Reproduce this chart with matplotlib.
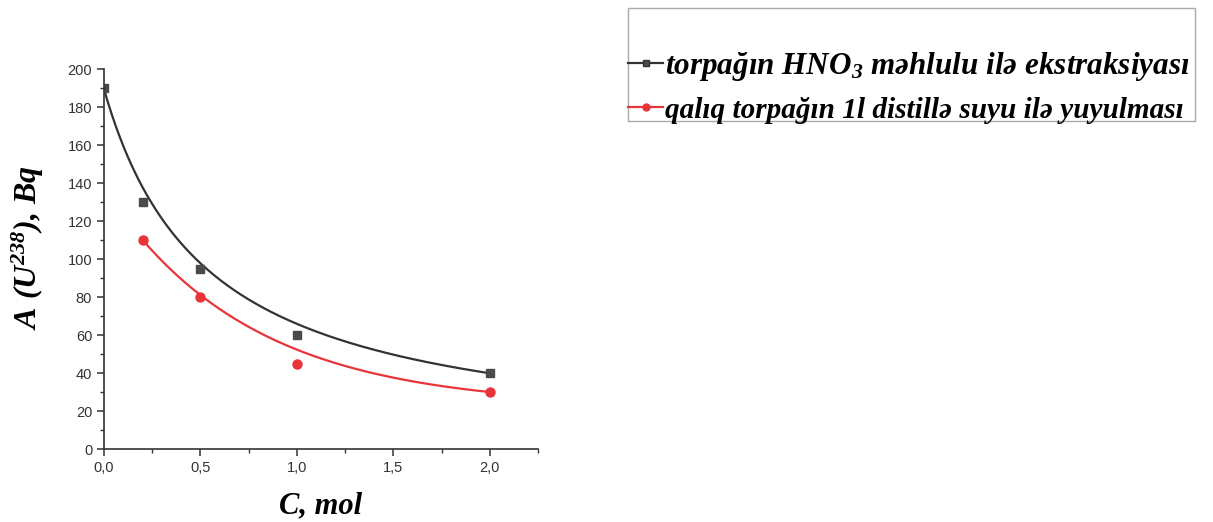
import matplotlib
matplotlib.use("Agg")
import matplotlib.pyplot as plt
import numpy as np
from matplotlib.ticker import MultipleLocator, FuncFormatter
from matplotlib.lines import Line2D
from matplotlib.patches import Rectangle

# data
conc_hno3 = [0.0, 0.2, 0.5, 1.0, 2.0]
act_hno3 = [190, 130, 95, 60, 40]
conc_water = [0.2, 0.5, 1.0, 2.0]
act_water = [110, 80, 45, 30]
label_hno3 = "torpağın HNO$_3$ məhlulu ilə ekstraksiyası"
label_water = "qalıq torpağın 1l distillə suyu ilə yuyulması"

# fitted curves
# HNO3: y = a / (x + b)
fit_hno3 = [101.0, 0.533]
# water: y = y0 + A * exp(-x / t)
fit_water = [22.0, 115.0, 0.75]

plt.rcParams["mathtext.fontset"] = "custom"
plt.rcParams["mathtext.rm"] = "Liberation Serif:bold:italic"
plt.rcParams["mathtext.it"] = "Liberation Serif:bold:italic"
plt.rcParams["mathtext.bf"] = "Liberation Serif:bold:italic"

black = "#333333"
red = "#e8353a"

fig = plt.figure(figsize=(12.13, 5.22), dpi=100)
ax = fig.add_axes([0.0857, 0.1398, 0.3578, 0.728])

xs = np.linspace(min(conc_hno3), max(conc_hno3), 300)
ax.plot(xs, fit_hno3[0] / (xs + fit_hno3[1]), color=black, lw=1.6)
ax.plot(conc_hno3, act_hno3, "s", color="#4a4a4a", ms=6, ls="none")
xs = np.linspace(min(conc_water), max(conc_water), 300)
ax.plot(xs, fit_water[0] + fit_water[1] * np.exp(-xs / fit_water[2]), color=red, lw=1.6)
ax.plot(conc_water, act_water, "o", color=red, ms=6.5, ls="none")

ax.set_xlim(0, 2.25)
ax.set_ylim(0, 200)
ax.xaxis.set_major_locator(MultipleLocator(0.5))
ax.xaxis.set_minor_locator(MultipleLocator(0.25))
ax.yaxis.set_major_locator(MultipleLocator(20))
ax.yaxis.set_minor_locator(MultipleLocator(10))
ax.xaxis.set_major_formatter(FuncFormatter(lambda v, p: f"{v:.1f}".replace(".", ",")))
ax.yaxis.set_major_formatter(FuncFormatter(lambda v, p: f"{v:.0f}"))
for s in ["top", "right"]:
    ax.spines[s].set_visible(False)
for s in ["left", "bottom"]:
    ax.spines[s].set_color(black)
    ax.spines[s].set_linewidth(1.2)
ax.tick_params(which="major", length=5, width=1.1, color=black, direction="out",
               labelsize=10.5, labelcolor="#333333")
ax.tick_params(which="minor", length=3, width=1.0, color=black, direction="out")
for lab in ax.get_xticklabels() + ax.get_yticklabels():
    lab.set_family("Liberation Sans")

ax.set_xlabel("C, mol", family="Liberation Serif", weight="bold", style="italic",
              fontsize=22, labelpad=12)
ax.set_ylabel("A (U$^{238}$), Bq", family="Liberation Serif", weight="bold",
              style="italic", fontsize=23)
ax.yaxis.set_label_coords(-0.133, 0.53)

# legend box
fig.patches.append(Rectangle((628 / 1213, 1 - 121 / 522), 567 / 1213, 113 / 522,
                             transform=fig.transFigure, fill=False,
                             edgecolor="#aaaaaa", lw=1.0))
handles = [Line2D([], [], color=black, lw=1.6, marker="s", ms=4.5, mfc="#4a4a4a"),
           Line2D([], [], color=red, lw=1.6, marker="o", ms=5)]
leg = fig.legend(handles, [label_hno3, label_water], loc="upper left",
                 bbox_to_anchor=(628 / 1213, 1 - 50 / 522), frameon=False,
                 handlelength=1.12, handletextpad=0.06, borderpad=0, borderaxespad=0,
                 labelspacing=0.42,
                 prop={"family": "Liberation Serif", "weight": "bold", "style": "italic",
                       "size": 22.5})

# squeeze each legend line to the width it has in the reference
fig.canvas.draw()
r = fig.canvas.get_renderer()
for txt, target in zip(leg.get_texts(), [525, 518]):
    w = txt.get_window_extent(r).width
    txt.set_fontsize(22.5 * target / w)

fig.savefig("out.png", dpi=100)
